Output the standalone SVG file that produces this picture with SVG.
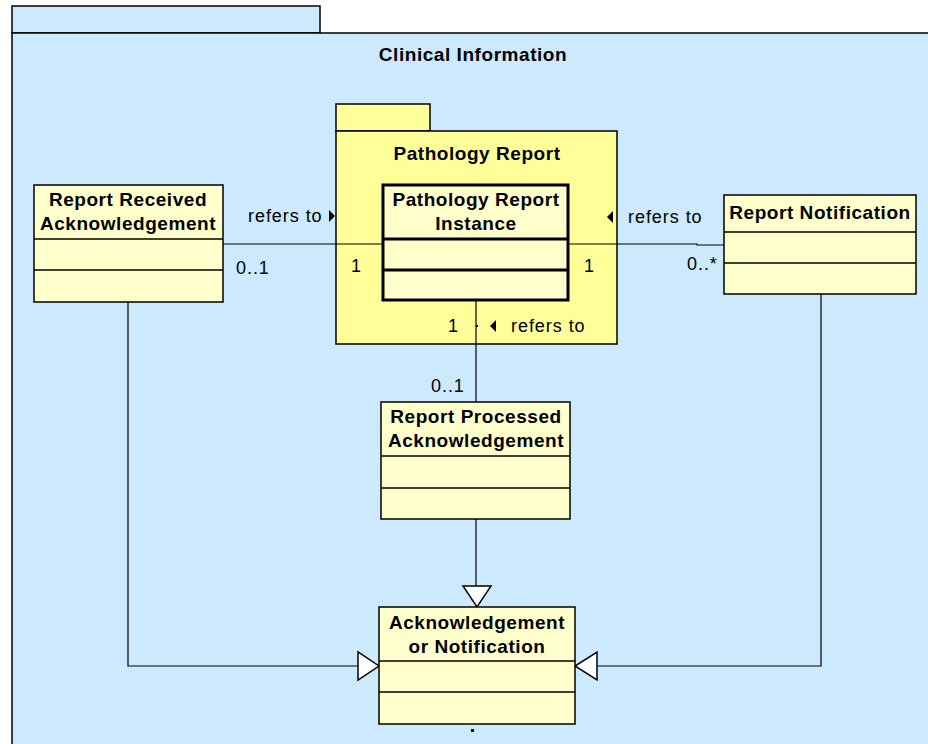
<svg xmlns="http://www.w3.org/2000/svg" width="928" height="744" viewBox="0 0 928 744">
<style>
.pkg{fill:#cce9fd;stroke:#000;stroke-width:1.5}
.pkg2{fill:#ffff99;stroke:#000;stroke-width:1.5}
.cls{fill:#ffffcc;stroke:#000;stroke-width:1.5}
.thick{fill:#ffffcc;stroke:#000;stroke-width:3}
.ln{stroke:#000;stroke-width:1.5;fill:none}
.ln3{stroke:#000;stroke-width:3;fill:none}
.t{font-family:"Liberation Sans",Arial,sans-serif;font-size:19px;font-weight:bold;fill:#000;text-anchor:middle;letter-spacing:0.55px}
.l{font-family:"Liberation Sans",Arial,sans-serif;font-size:18px;fill:#000;letter-spacing:0.95px}
.c{stroke:#000;stroke-width:1.2;fill:none}
.gen{fill:#fff;stroke:#000;stroke-width:1.5}
</style>
<g id="pkg-clinical">
<rect class="pkg" x="12" y="6" width="308" height="27"/>
<rect class="pkg" x="12" y="33" width="930" height="720"/>
<text class="t" x="473" y="61">Clinical Information</text>
</g>
<g id="pkg-pathology">
<rect class="pkg2" x="336" y="104" width="94" height="27"/>
<rect class="pkg2" x="336" y="131" width="281" height="213"/>
<text class="t" x="477" y="160">Pathology Report</text>
</g>
<g id="connectors">
<line class="c" x1="223" y1="244" x2="383" y2="244"/>
<polyline class="c" points="568,244 697,244 697,245 724,245"/>
<line class="c" x1="476" y1="300" x2="476" y2="402"/>
<line class="c" x1="476" y1="519" x2="476" y2="586"/>
<polygon class="gen" points="463,586 491,586 477,607"/>
<polyline class="c" points="128,302 128,666 358,666"/>
<polygon class="gen" points="358,652 358,680 379,666"/>
<polyline class="c" points="821,294 821,666 597,666"/>
<polygon class="gen" points="597,652 597,680 575,666"/>
<polygon points="329,210 335,216 329,222" fill="#000"/>
<polygon points="613,211 607,217 613,223" fill="#000"/>
<polygon points="496,320 490,326 496,332" fill="#000"/>
<rect x="476" y="325" width="2" height="2" fill="#000"/>
<text class="l" x="248" y="222">refers to</text>
<text class="l" x="236" y="274">0..1</text>
<text class="l" x="351" y="272">1</text>
<text class="l" x="584" y="272">1</text>
<text class="l" x="628" y="223">refers to</text>
<text class="l" x="687" y="270">0..*</text>
<text class="l" x="448" y="332">1</text>
<text class="l" x="511" y="332">refers to</text>
<text class="l" x="431" y="392">0..1</text>
</g>
<g id="pri">
<rect class="thick" x="383" y="185" width="185" height="115"/>
<line class="ln3" x1="383" y1="239" x2="568" y2="239"/>
<line class="ln3" x1="383" y1="270" x2="568" y2="270"/>
<text class="t" x="476" y="206">Pathology Report</text>
<text class="t" x="476" y="230">Instance</text>
</g>
<g id="rra">
<rect class="cls" x="34" y="185" width="189" height="117"/>
<line class="ln" x1="34" y1="239" x2="223" y2="239"/>
<line class="ln" x1="34" y1="270" x2="223" y2="270"/>
<text class="t" x="128" y="206">Report Received</text>
<text class="t" x="128" y="230">Acknowledgement</text>
</g>
<g id="rn">
<rect class="cls" x="724" y="195" width="192" height="99"/>
<line class="ln" x1="724" y1="232" x2="916" y2="232"/>
<line class="ln" x1="724" y1="263" x2="916" y2="263"/>
<text class="t" x="820" y="219">Report Notification</text>
</g>
<g id="rpa">
<rect class="cls" x="381" y="402" width="189" height="117"/>
<line class="ln" x1="381" y1="456" x2="570" y2="456"/>
<line class="ln" x1="381" y1="488" x2="570" y2="488"/>
<text class="t" x="476" y="423">Report Processed</text>
<text class="t" x="476" y="447">Acknowledgement</text>
</g>
<g id="aon">
<rect class="cls" x="379" y="607" width="196" height="117"/>
<line class="ln" x1="379" y1="661" x2="575" y2="661"/>
<line class="ln" x1="379" y1="692" x2="575" y2="692"/>
<text class="t" x="477" y="629">Acknowledgement</text>
<text class="t" x="477" y="653">or Notification</text>
<rect x="471" y="729" width="3" height="3" fill="#000"/>
</g>
</svg>
